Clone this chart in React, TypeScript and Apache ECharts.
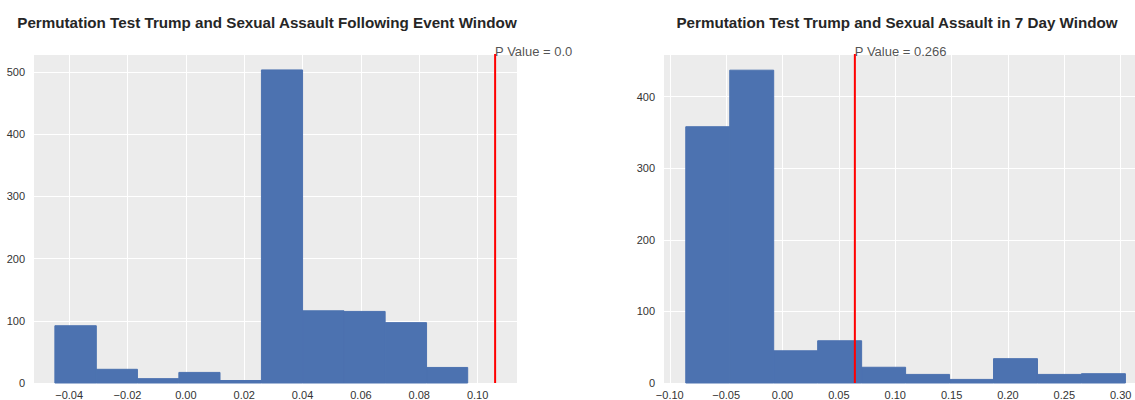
import React, { useEffect, useRef } from "react";
import * as echarts from "echarts";

const leftTitle = "Permutation Test Trump and Sexual Assault Following Event Window";
const rightTitle = "Permutation Test Trump and Sexual Assault in 7 Day Window";

const leftEdges = [-0.0449, -0.0307, -0.0166, -0.0024, 0.0117, 0.0259, 0.04, 0.0542, 0.0683, 0.0825, 0.0966];
const leftCounts = [92, 22, 7, 17, 4, 503, 116, 115, 97, 25];
const leftObserved = 0.106;
const leftPLabel = "P Value = 0.0";

const rightEdges = [-0.0858, -0.0468, -0.0078, 0.0312, 0.0702, 0.1092, 0.1482, 0.1872, 0.2262, 0.2652, 0.3042];
const rightCounts = [358, 437, 45, 59, 22, 12, 5, 34, 12, 13];
const rightObserved = 0.0642;
const rightPLabel = "P Value = 0.266";

const leftXRange = [-0.0524, 0.1135];
const rightXRange = [-0.106, 0.3127];
const leftYMax = 528.6;
const rightYMax = 459.6;

const FONT = "'Liberation Sans', Arial, Helvetica, sans-serif";
const BAR = "#4c72b0";
const BG = "#ececec";

const fmtX = (v: number) => v.toFixed(2).replace("-", "\u2212");

function histData(edges: number[], counts: number[]) {
  return counts.map((c, i) => [edges[i], edges[i + 1], c]);
}

const renderBar = (params: any, api: any) => {
  const x0 = api.value(0);
  const x1 = api.value(1);
  const h = api.value(2);
  const p0 = api.coord([x0, h]);
  const p1 = api.coord([x1, 0]);
  return {
    type: "rect",
    shape: { x: p0[0], y: p0[1], width: p1[0] - p0[0], height: p1[1] - p0[1] },
    style: { fill: BAR, stroke: BAR, lineWidth: 1 },
  };
};

function xAxis(gridIndex: number, range: number[], step: number) {
  return {
    type: "value",
    gridIndex,
    min: range[0],
    max: range[1],
    minInterval: step,
    maxInterval: step,
    splitNumber: Math.round((range[1] - range[0]) / step),
    axisLine: { show: false },
    axisTick: { show: false },
    axisLabel: {
      show: true,
      showMinLabel: false,
      showMaxLabel: false,
      color: "#333",
      fontSize: 11,
      fontFamily: FONT,
      margin: 6,
      formatter: fmtX,
    },
    splitLine: { show: true, lineStyle: { color: "#ffffff", width: 1 } },
  };
}

function yAxis(gridIndex: number, max: number) {
  return {
    type: "value",
    gridIndex,
    min: 0,
    max,
    interval: 100,
    axisLine: { show: false },
    axisTick: { show: false },
    axisLabel: {
      show: true,
      showMaxLabel: false,
      color: "#333",
      fontSize: 11,
      fontFamily: FONT,
      margin: 8,
    },
    splitLine: { show: true, lineStyle: { color: "#ffffff", width: 1 } },
  };
}

function pLabel(xi: number, x: number, y: number, text: string) {
  return {
    type: "scatter",
    xAxisIndex: xi,
    yAxisIndex: xi,
    symbolSize: 0,
    silent: true,
    data: [[x, y]],
    label: {
      show: true,
      formatter: text,
      position: "top",
      distance: 0,
      align: "left",
      verticalAlign: "bottom",
      offset: [0, 3.5],
      color: "#262626",
      fontSize: 13,
      fontFamily: FONT,
    },
    z: 6,
  };
}

export default function App() {
  const ref = useRef<HTMLDivElement>(null);
  useEffect(() => {
    if (!ref.current) return;
    const chart = echarts.init(ref.current, undefined, { renderer: "svg" });
    chart.setOption({
      animation: false,
      backgroundColor: "#ffffff",
      title: [
        {
          text: leftTitle,
          left: 262,
          top: 10,
          textAlign: "center",
          textStyle: { fontFamily: FONT, fontSize: 15.2, fontWeight: "bold", color: "#262626" },
        },
        {
          text: rightTitle,
          left: 892,
          top: 10,
          textAlign: "center",
          textStyle: { fontFamily: FONT, fontSize: 15.2, fontWeight: "bold", color: "#262626" },
        },
      ],
      grid: [
        { left: 33, right: 618, top: 54, bottom: 16.7, show: true, backgroundColor: BG, borderWidth: 0 },
        { left: 663, right: 0, top: 54, bottom: 16.7, show: true, backgroundColor: BG, borderWidth: 0 },
      ],
      xAxis: [xAxis(0, leftXRange, 0.02), xAxis(1, rightXRange, 0.05)],
      yAxis: [yAxis(0, leftYMax), yAxis(1, rightYMax)],
      series: [
        {
          type: "custom",
          xAxisIndex: 0,
          yAxisIndex: 0,
          renderItem: renderBar,
          encode: { x: [0, 1], y: 2 },
          data: histData(leftEdges, leftCounts),
          z: 2,
        },
        {
          type: "custom",
          xAxisIndex: 1,
          yAxisIndex: 1,
          renderItem: renderBar,
          encode: { x: [0, 1], y: 2 },
          data: histData(rightEdges, rightCounts),
          z: 2,
        },
        {
          type: "line",
          xAxisIndex: 0,
          yAxisIndex: 0,
          data: [[leftObserved, 0], [leftObserved, leftYMax]],
          symbol: "none",
          silent: true,
          lineStyle: { color: "#ff0000", width: 2 },
          z: 5,
        },
        {
          type: "line",
          xAxisIndex: 1,
          yAxisIndex: 1,
          data: [[rightObserved, 0], [rightObserved, rightYMax]],
          symbol: "none",
          silent: true,
          lineStyle: { color: "#ff0000", width: 2 },
          z: 5,
        },
        pLabel(0, leftObserved, leftYMax, leftPLabel),
        pLabel(1, rightObserved, rightYMax, rightPLabel),
      ],
    });
    return () => chart.dispose();
  }, []);
  return (
    <div
      ref={ref}
      style={{ position: "fixed", left: 0, top: 0, width: 1135, height: 400 }}
    />
  );
}
